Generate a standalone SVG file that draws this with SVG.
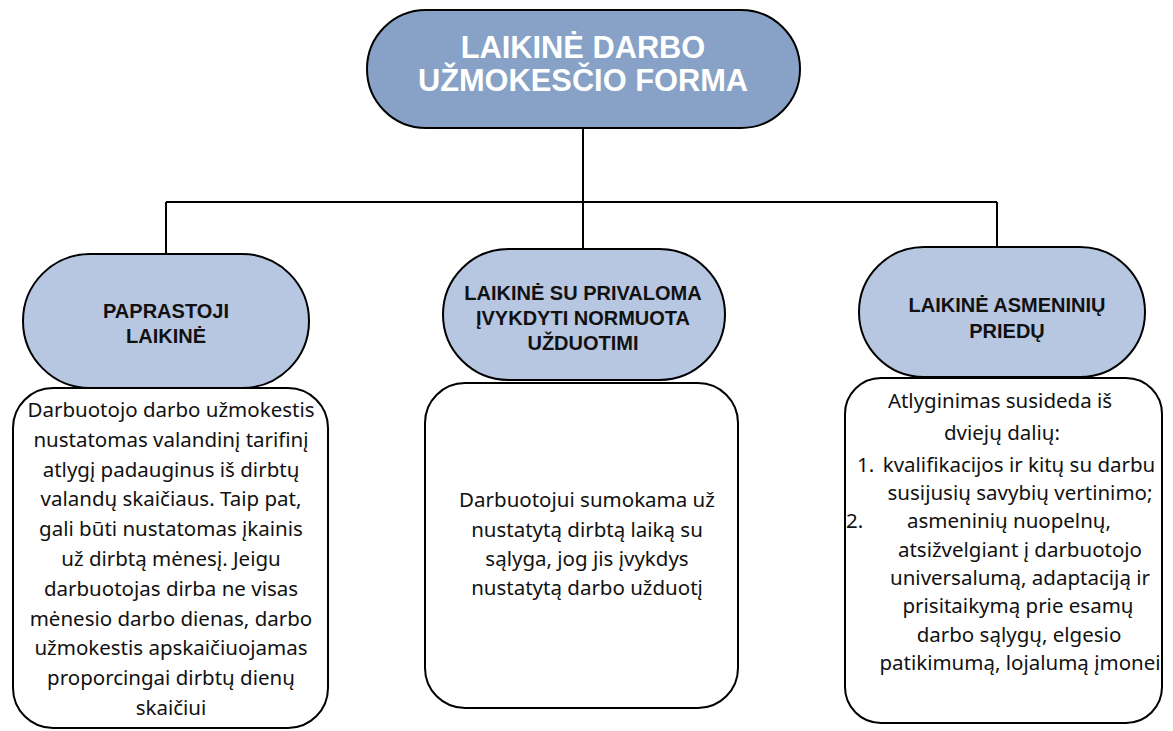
<svg xmlns="http://www.w3.org/2000/svg" width="1173" height="731" viewBox="0 0 1173 731">
<style>
.con{stroke:#000;stroke-width:2;fill:none}
.top{fill:#87A2C6;stroke:#000;stroke-width:2}
.sub{fill:#B7C6E1;stroke:#000;stroke-width:2}
.box{fill:#fff;stroke:#000;stroke-width:2}
.tt{font-family:"Liberation Sans",Arial,sans-serif;font-weight:bold;font-size:30.8px;fill:#fff;text-anchor:middle}
.st{font-family:"Liberation Sans",Arial,sans-serif;font-weight:bold;font-size:20px;fill:#111;text-anchor:middle}
.bt{font-family:"Noto Sans",sans-serif;font-size:20.5px;fill:#111;text-anchor:middle}
.bs{font-family:"Noto Sans",sans-serif;font-size:20.5px;fill:#111}
</style>
<rect width="1173" height="731" fill="#fff"/>
<g id="connectors">
<path class="con" d="M583 128V202M166 202H997M166 202V254M583 202V249M997 202V247"/>
</g>
<g id="root">
<rect class="top" x="367" y="10" width="433" height="118" rx="59"/>
<text class="tt" x="583" y="58">LAIKINĖ DARBO</text>
<text class="tt" x="583" y="91">UŽMOKESČIO FORMA</text>
</g>
<g id="box1">
<rect class="box" x="13" y="388" width="315" height="340" rx="40"/>
<text class="bt" x="171" y="417">Darbuotojo darbo užmokestis</text>
<text class="bt" x="171" y="447">nustatomas valandinį tarifinį</text>
<text class="bt" x="171" y="477">atlygį padauginus iš dirbtų</text>
<text class="bt" x="171" y="506">valandų skaičiaus. Taip pat,</text>
<text class="bt" x="171" y="536">gali būti nustatomas įkainis</text>
<text class="bt" x="171" y="566">už dirbtą mėnesį. Jeigu</text>
<text class="bt" x="171" y="596">darbuotojas dirba ne visas</text>
<text class="bt" x="171" y="626">mėnesio darbo dienas, darbo</text>
<text class="bt" x="171" y="655">užmokestis apskaičiuojamas</text>
<text class="bt" x="171" y="685">proporcingai dirbtų dienų</text>
<text class="bt" x="171" y="715">skaičiui</text>
</g>
<g id="box2">
<rect class="box" x="425" y="383" width="313" height="325" rx="40"/>
<text class="bt" x="587" y="507">Darbuotojui sumokama už</text>
<text class="bt" x="587" y="537">nustatytą dirbtą laiką su</text>
<text class="bt" x="587" y="566">sąlyga, jog jis įvykdys</text>
<text class="bt" x="587" y="595">nustatytą darbo užduotį</text>
</g>
<g id="box3">
<rect class="box" x="845" y="378" width="317" height="345" rx="36"/>
<text class="bt" x="1000" y="408">Atlyginimas susideda iš</text>
<text class="bt" x="1002" y="440">dviejų dalių:</text>
<text class="bs" x="857" y="472">1.</text>
<text class="bt" x="1019" y="472">kvalifikacijos ir kitų su darbu</text>
<text class="bt" x="1020" y="500">susijusių savybių vertinimo;</text>
<text class="bs" x="846" y="528">2.</text>
<text class="bt" x="1009" y="528">asmeninių nuopelnų,</text>
<text class="bt" x="1020" y="557">atsižvelgiant į darbuotojo</text>
<text class="bt" x="1020" y="585">universalumą, adaptaciją ir</text>
<text class="bt" x="1018" y="613">prisitaikymą prie esamų</text>
<text class="bt" x="1019" y="642">darbo sąlygų, elgesio</text>
<text class="bt" x="1020" y="670">patikimumą, lojalumą įmonei</text>
</g>
<g id="n1">
<rect class="sub" x="23" y="254" width="286" height="134" rx="67"/>
<text class="st" x="166" y="318">PAPRASTOJI</text>
<text class="st" x="166" y="343">LAIKINĖ</text>
</g>
<g id="n2">
<rect class="sub" x="443" y="249" width="282" height="131" rx="65.5"/>
<text class="st" x="583" y="300">LAIKINĖ SU PRIVALOMA</text>
<text class="st" x="583" y="325">ĮVYKDYTI NORMUOTA</text>
<text class="st" x="583" y="350">UŽDUOTIMI</text>
</g>
<g id="n3">
<rect class="sub" x="859" y="247" width="286" height="130" rx="65"/>
<text class="st" x="1007" y="312">LAIKINĖ ASMENINIŲ</text>
<text class="st" x="1007" y="338">PRIEDŲ</text>
</g>
</svg>
